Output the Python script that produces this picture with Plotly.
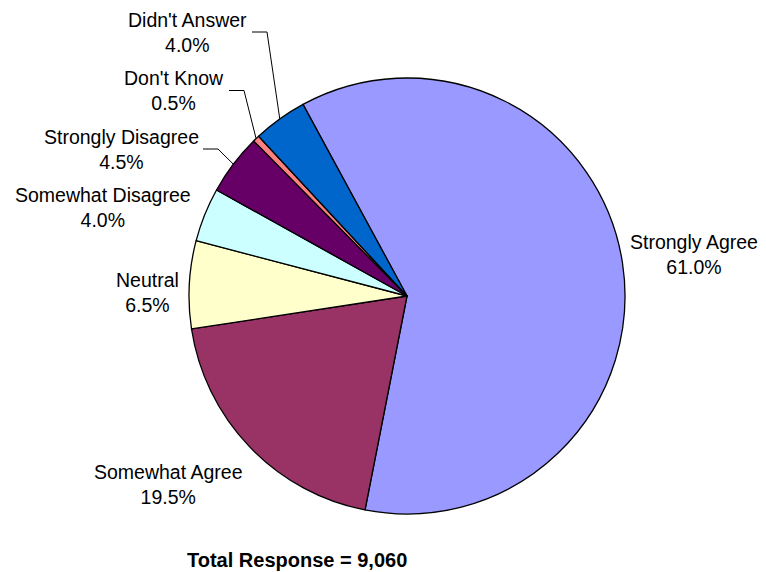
import math
import plotly.graph_objects as go

# Survey responses, in the order the slices run clockwise
categories = ["Strongly Agree", "Somewhat Agree", "Neutral", "Somewhat Disagree",
              "Strongly Disagree", "Don't Know", "Didn't Answer"]
percents = [61.0, 19.5, 6.5, 4.0, 4.5, 0.5, 4.0]
colors = ["#9999FF", "#993366", "#FFFFCC", "#CCFFFF", "#660066", "#FF8080", "#0066CC"]
total_label = "Total Response = 9,060"

# layout (window pixels; the html body adds an 8px margin round the figure)
PAGE_OFF = 8
FIG_W, FIG_H = 758, 564
CX, CY, R = 407, 296, 218
ROTATION = -28.5
FONT = "Liberation Sans, Arial"
label_xy = [(694, 255), (168, 484), (147.5, 292), (103, 207.5),
            (121.5, 149), (173.5, 90.5), (187.5, 32)]
leader_x = [None, None, None, None, 203, 229, 252]  # start of the elbow leader
LEADER_LEN = 15
title_xy = (296.5, 560)

ml = CX - R - PAGE_OFF
mt = CY - R - PAGE_OFF
mr = FIG_W - ml - 2 * R
mb = FIG_H - mt - 2 * R


def px(x):
    return (x - PAGE_OFF - ml) / (2 * R)


def py(y):
    return 1 - (y - PAGE_OFF - mt) / (2 * R)


fig = go.Figure()
fig.add_trace(go.Pie(
    labels=categories,
    values=percents,
    sort=False,
    direction="clockwise",
    rotation=ROTATION,
    marker=dict(colors=colors, line=dict(color="black", width=1.3)),
    textinfo="none",
    showlegend=False,
    hoverinfo="label+percent",
))

total = sum(percents)
cum = 0
for i, (cat, pct) in enumerate(zip(categories, percents)):
    mid = (cum + pct / 2) / total
    cum += pct
    ang = math.radians(ROTATION + 360 * mid)
    ex = CX + R * math.sin(ang)
    ey = CY - R * math.cos(ang)
    lx, ly = label_xy[i]
    fig.add_annotation(
        text=f"{cat}<br>{pct:.1f}%",
        xref="paper", yref="paper", x=px(lx), y=py(ly),
        xanchor="center", yanchor="middle", align="center",
        showarrow=False,
        font=dict(family=FONT, size=19.5, color="black"),
    )
    if leader_x[i] is not None:
        x0 = leader_x[i]
        fig.add_shape(
            type="path", xref="paper", yref="paper",
            path=f"M {px(x0)},{py(ly)} L {px(x0 + LEADER_LEN)},{py(ly)} L {px(ex)},{py(ey)}",
            line=dict(color="black", width=1),
        )

fig.add_annotation(
    text="<b>" + total_label + "</b>",
    xref="paper", yref="paper", x=px(title_xy[0]), y=py(title_xy[1]),
    xanchor="center", yanchor="middle", showarrow=False,
    font=dict(family=FONT, size=20, color="black"),
)

fig.update_layout(
    width=FIG_W, height=FIG_H,
    margin=dict(l=ml, r=mr, t=mt, b=mb),
    paper_bgcolor="white",
    plot_bgcolor="white",
)

fig.write_html("out.html")
